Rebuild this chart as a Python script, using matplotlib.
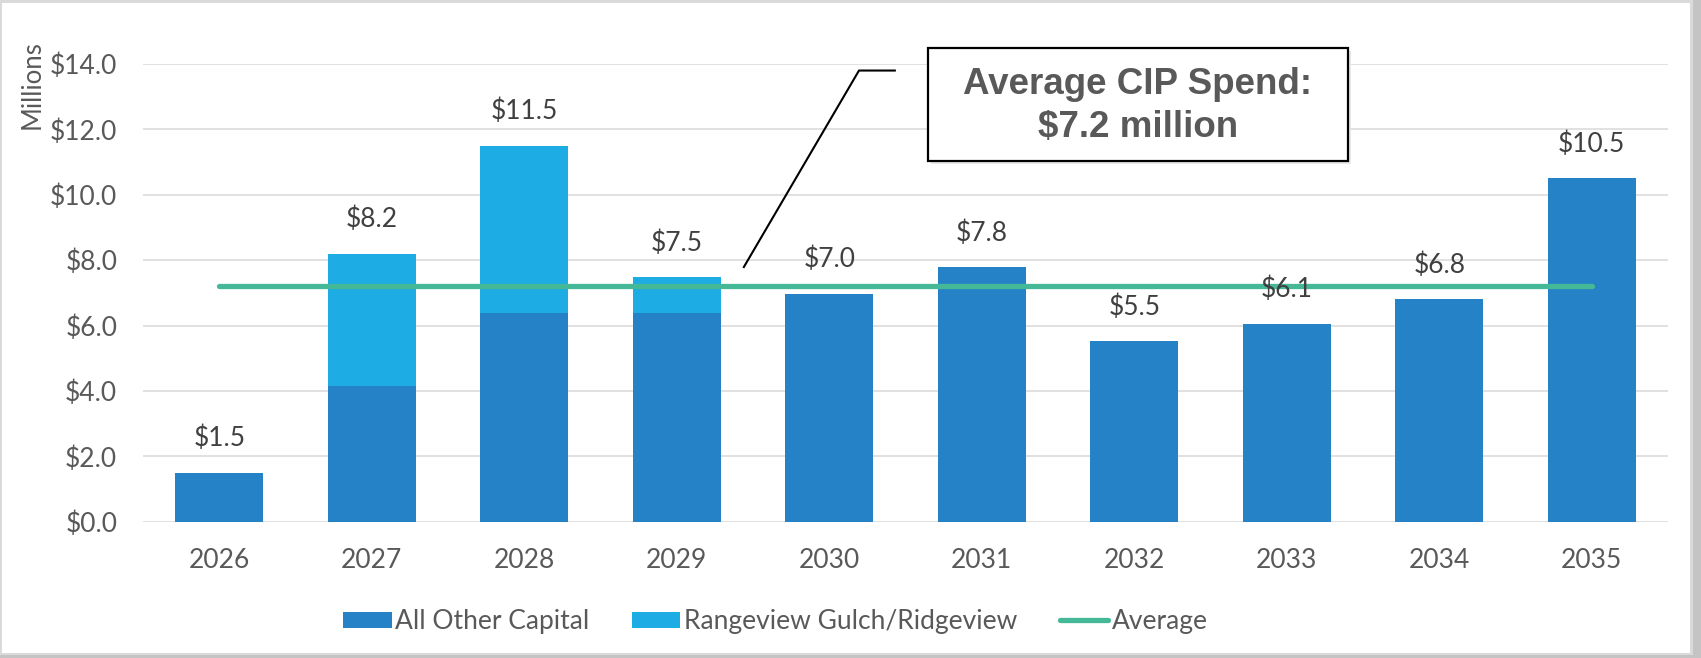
import matplotlib
matplotlib.use('Agg')
import matplotlib.pyplot as plt
from matplotlib.patches import Rectangle
from matplotlib.lines import Line2D
import numpy as np

plt.rcParams['font.family'] = ['Lato', 'DejaVu Sans']

# ---- data ----
years = ['2026', '2027', '2028', '2029', '2030', '2031', '2032', '2033', '2034', '2035']
all_other_capital = [1.50, 4.15, 6.38, 6.38, 6.98, 7.78, 5.52, 6.06, 6.80, 10.50]
rangeview_ridgeview = [0.00, 4.05, 5.12, 1.10, 0.00, 0.00, 0.00, 0.00, 0.00, 0.00]
average_value = 7.22
y_ticks = [0, 2, 4, 6, 8, 10, 12, 14]

# ---- style ----
C_DARK = '#2682C6'
C_LIGHT = '#1DACE3'
C_AVG = '#45B997'
C_TEXT = '#595959'
C_LABEL = '#404040'
C_GRID = '#D9D9D9'

W, H = 1701, 658
fig = plt.figure(figsize=(W / 100, H / 100), dpi=100)
fig.patch.set_facecolor('white')

# outer frame (pixel coordinates, origin bottom-left)
fig.add_artist(Rectangle((0, 0), W, H, transform=None, facecolor='#C4C4C4', edgecolor='none', zorder=-10))
fig.add_artist(Rectangle((0, H - 655), 1693, 655, transform=None, facecolor='#DADADA', edgecolor='none', zorder=-9))
fig.add_artist(Rectangle((2, H - 652.5), 1688, 649.5, transform=None, facecolor='white', edgecolor='none', zorder=-8))

ax = fig.add_axes([143 / W, 1 - 521.7 / H, 1525 / W, (521.7 - 64) / H])
ax.set_facecolor('none')

x = np.arange(len(years))
bw = 0.574
other = np.array(all_other_capital)
rv = np.array(rangeview_ridgeview)
totals = other + rv

b1 = ax.bar(x, other, width=bw, color=C_DARK, label='All Other Capital', zorder=2)
b2 = ax.bar(x, rv, bottom=other, width=bw, color=C_LIGHT, label='Rangeview Gulch/Ridgeview', zorder=2)
ln, = ax.plot([x[0], x[-1]], [average_value, average_value], color=C_AVG, lw=3.8,
              solid_capstyle='round', label='Average', zorder=3)

for xi, t in zip(x, totals):
    ax.annotate(f'${t:.1f}', (xi, t), xytext=(0, 24.5), textcoords='offset points',
                ha='center', va='center', fontsize=19, color=C_LABEL)

ax.set_xlim(-0.5, len(years) - 0.5)
ax.set_ylim(0, 14)
ax.set_yticks(y_ticks)
ax.set_yticklabels([f'${v:.1f}' for v in y_ticks])
ax.set_xticks(x)
ax.set_xticklabels(years)
ax.tick_params(axis='both', length=0, labelsize=19, labelcolor=C_TEXT)
ax.tick_params(axis='y', pad=18.5)
ax.tick_params(axis='x', pad=19)
ax.grid(axis='y', color=C_GRID, lw=1.1, zorder=0)
ax.set_axisbelow(True)
for s in ax.spines.values():
    s.set_visible(False)

fig.text(32.5 / W, 1 - 85 / H, 'Millions', rotation=90, ha='center', va='center',
         fontsize=18.5, color=C_TEXT)

# legend
leg = fig.legend([b1, b2, ln], ['All Other Capital', 'Rangeview Gulch/Ridgeview', 'Average'],
                 loc='center', bbox_to_anchor=(775.5 / W, 1 - 621.6 / H),
                 ncol=3, frameon=False, fontsize=19, handlelength=1.82, handleheight=0.57,
                 handletextpad=0.15, columnspacing=1.6, labelcolor=C_TEXT)

# annotation box
bx0, bx1, by0, by1 = 927.5, 1348.4, 47.7, 160.5
fig.add_artist(Rectangle((bx0 + 3, H - by1 - 3), bx1 - bx0, by1 - by0, transform=None,
                         facecolor='#E8E8E8', edgecolor='none', zorder=4))
fig.add_artist(Rectangle((bx0, H - by1), bx1 - bx0, by1 - by0, transform=None,
                         facecolor='white', edgecolor='black', lw=1.6, zorder=5))
fig.text((bx0 + bx1) / 2 / W, 1 - 84.6 / H, 'Average CIP Spend:', ha='center', va='center',
         fontsize=26.5, fontweight='bold', color=C_TEXT, family=['Liberation Sans', 'DejaVu Sans'], zorder=6)
fig.text((bx0 + bx1) / 2 / W, 1 - 127 / H, '$7.2 million', ha='center', va='center',
         fontsize=26.5, fontweight='bold', color=C_TEXT, family=['Liberation Sans', 'DejaVu Sans'], zorder=6)

# leader line (data coordinates)
ax.add_line(Line2D([4.43, 4.195, 3.44], [13.8, 13.8, 7.79], color='black', lw=1.5,
                   clip_on=False, zorder=4))

fig.savefig('out.png', dpi=100)
